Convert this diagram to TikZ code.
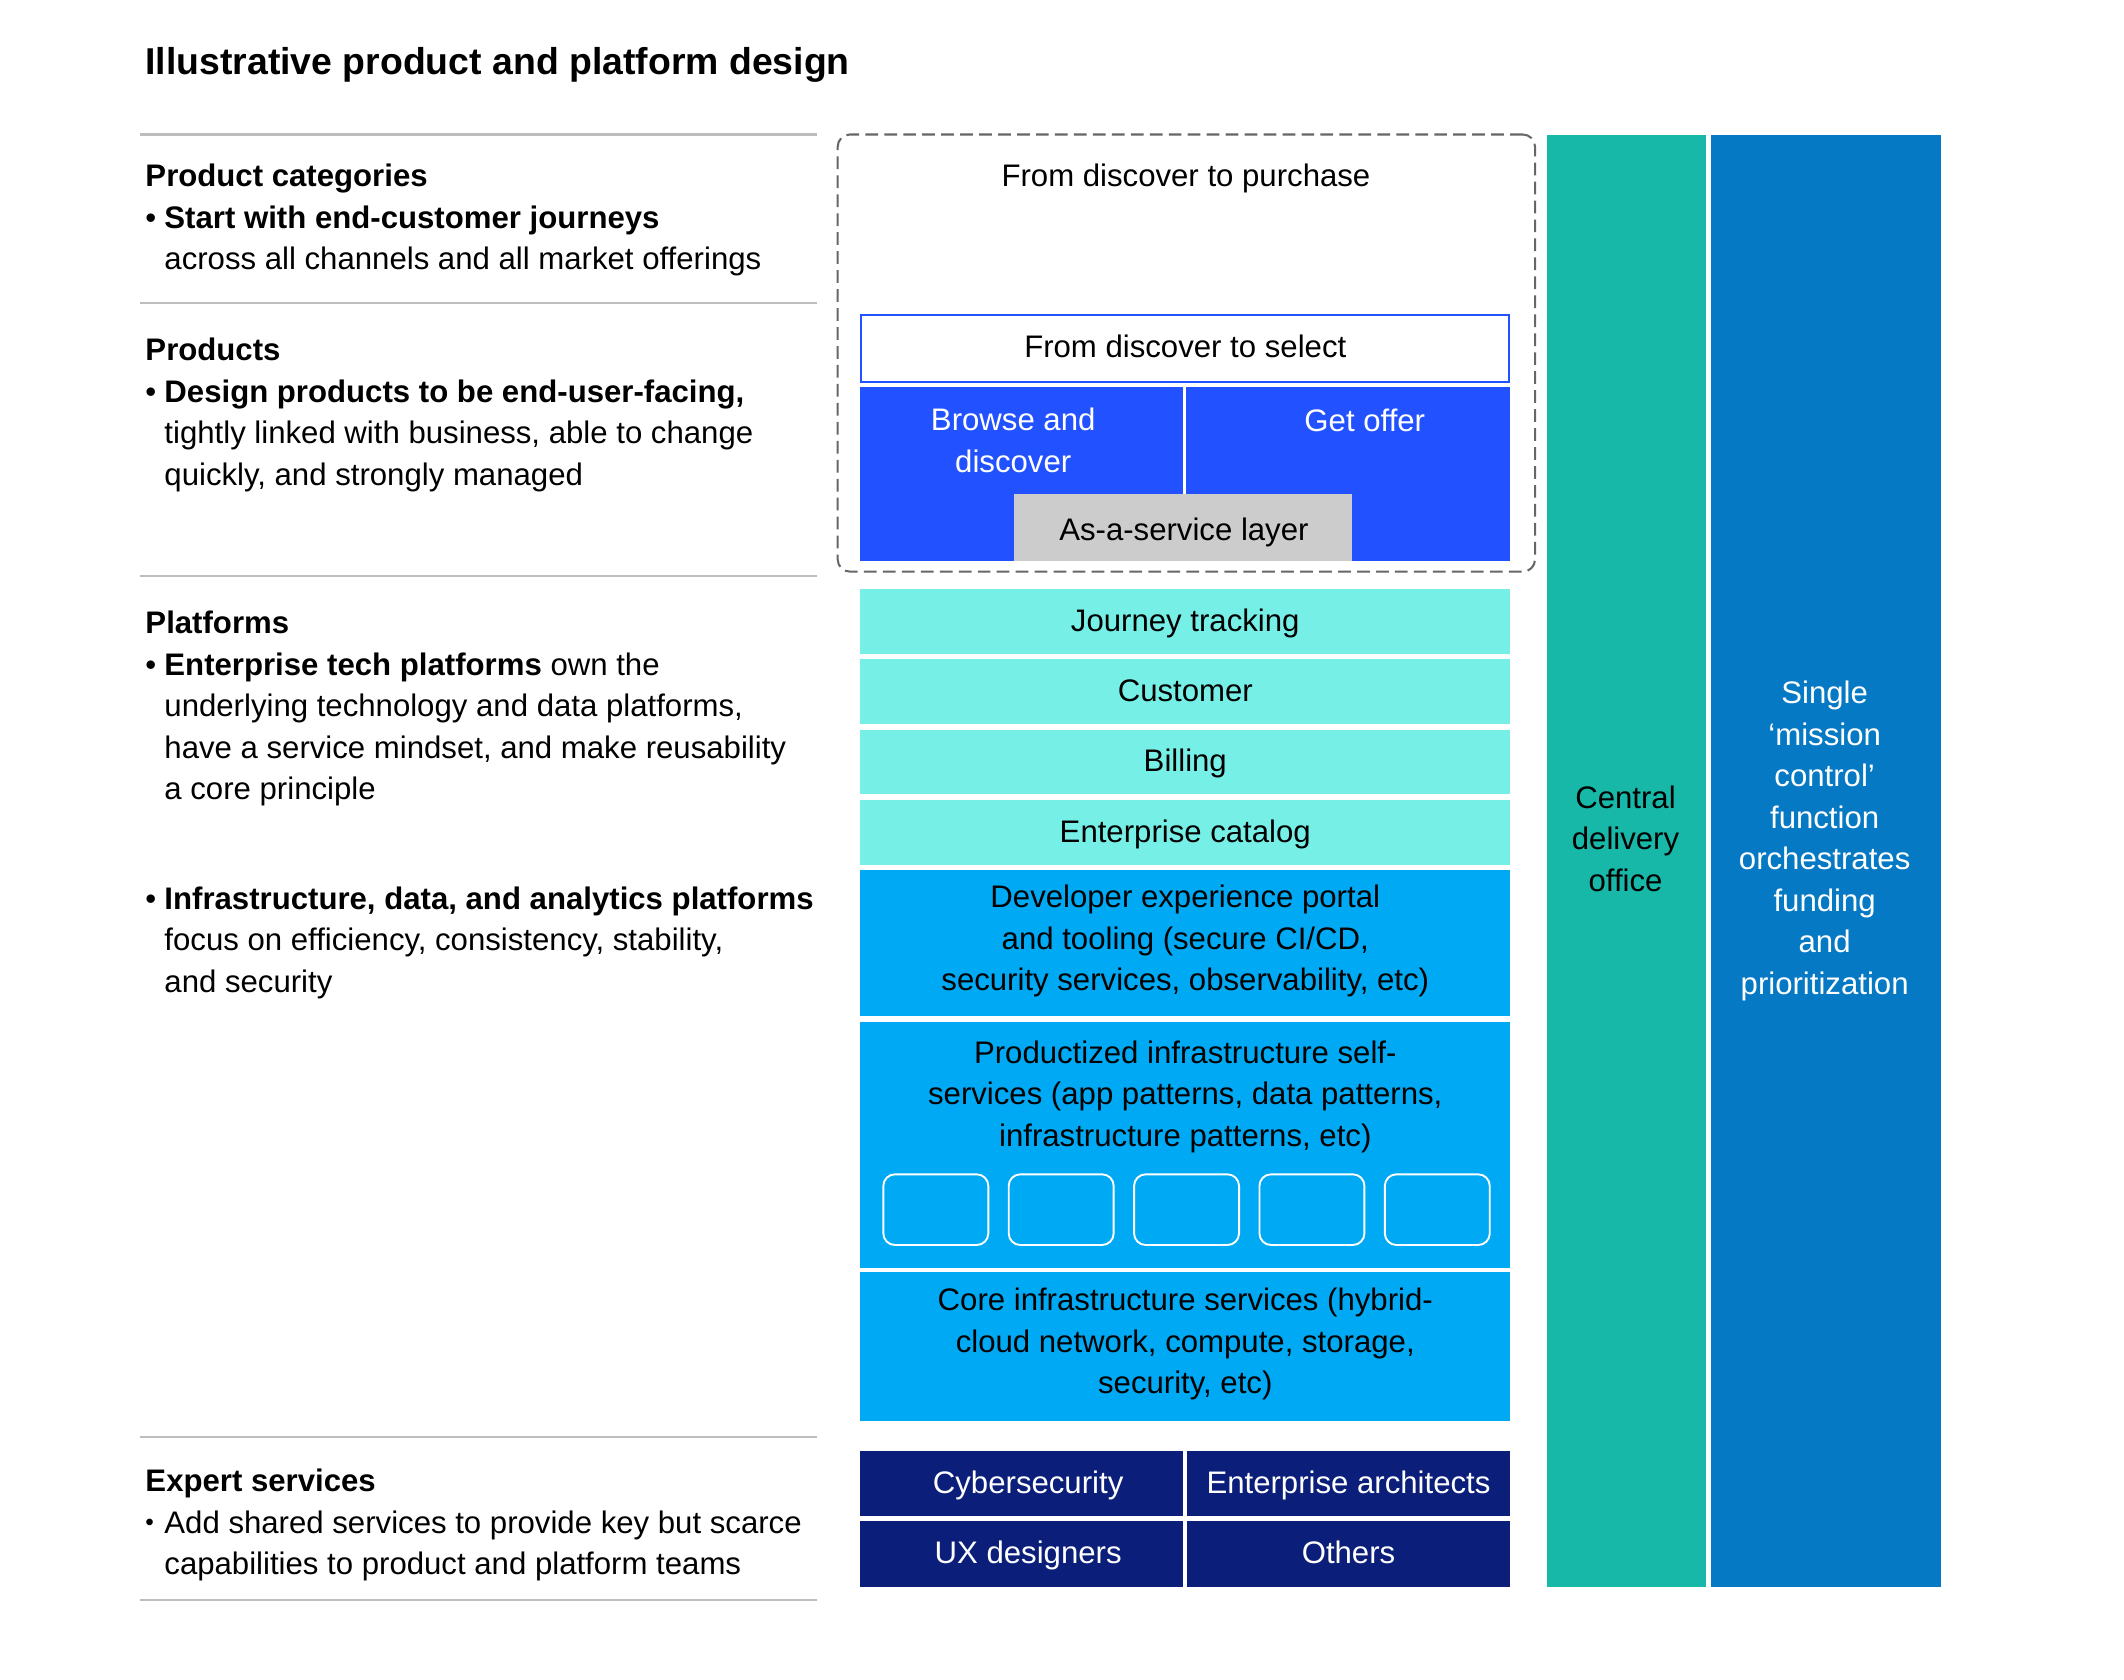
\documentclass[tikz,border=0pt]{standalone}
\usepackage{fontspec}
\setmainfont{Liberation Sans}
\definecolor{rulegray}{HTML}{BDBDBD}
\definecolor{dashgray}{HTML}{666666}
\definecolor{electric}{HTML}{2251FF}
\definecolor{layergray}{HTML}{CCCCCC}
\definecolor{mint}{HTML}{76F0E7}
\definecolor{sky}{HTML}{00A9F4}
\definecolor{navy}{HTML}{0B1F7A}
\definecolor{deliveryteal}{HTML}{17B8A8}
\definecolor{missionblue}{HTML}{0579C4}
\newcommand\bodyfont{\fontsize{11.5}{15.35}\selectfont}
\newcommand\boxstrut{\rule[-4.1pt]{0pt}{15.35pt}}
\newcommand\bulletmark{\makebox[7pt][l]{\textbullet}}
\newcommand\smallbullet{\makebox[7pt][l]{\raisebox{0.2ex}{\fontsize{9}{9}\selectfont\textbullet}}}
\newcommand\sideindent{\hspace*{7pt}}
\tikzset{
  txt/.style={inner sep=0pt, font=\bodyfont, align=center,
    execute at begin node=\boxstrut, execute at end node=\boxstrut},
  sidetext/.style={txt, anchor=north west, align=left},
  blk/.style={txt, fill=#1, minimum width=240pt, minimum height=23.95pt},
  half/.style={blk=#1, text=white, minimum width=119pt, minimum height=24.2pt},
  tile/.style={draw=white, line width=0.7pt, rounded corners=4.3pt,
    minimum width=38.75pt, minimum height=26.1pt, inner sep=0pt},
  dashframe/.style={draw=dashgray, line width=0.75pt, dash pattern=on 4.7pt off 2.3pt,
    rounded corners=4.5pt, inner sep=0pt},
  sep/.style={rulegray, line width=0.75pt},
}
\begin{document}
\begin{tikzpicture}[x=0.5pt,y=-0.5pt]
\useasboundingbox (0,0) rectangle (1568,1240.2);
\node[anchor=base west, inner sep=0pt, font=\fontsize{13.8}{16}\selectfont\bfseries] (title) at (107,55) {Illustrative product and platform design};
% left column
\foreach \y in {99.3,223.5,425.2,1061,1181.2}
  \draw[sep] (103,\y) -- (603,\y);
\node[sidetext] (categories) at (107,120.7) {\textbf{Product categories}\\\bulletmark\textbf{Start with end-customer journeys}\\\sideindent across all channels and all market offerings};
\node[sidetext] (products) at (107,249.2) {\textbf{Products}\\\bulletmark\textbf{Design products to be end-user-facing,}\\\sideindent tightly linked with business, able to change\\\sideindent quickly, and strongly managed};
\node[sidetext] (platforms) at (107,450.7) {\textbf{Platforms}\\\bulletmark\textbf{Enterprise tech platforms} own the\\\sideindent underlying technology and data platforms,\\\sideindent have a service mindset, and make reusability\\\sideindent a core principle};
\node[sidetext] (infra) at (107,654.2) {\bulletmark\textbf{Infrastructure, data, and analytics platforms}\\\sideindent focus on efficiency, consistency, stability,\\\sideindent and security};
\node[sidetext] (expert) at (107,1084.2) {\textbf{Expert services}\\\smallbullet Add shared services to provide key but scarce\\\sideindent capabilities to product and platform teams};
% products
\node[dashframe, minimum width=257.4pt, minimum height=161.35pt] (purchase) at (875.8,260.65) {};
\node[txt, anchor=north] (purchasetxt) at (875.5,114.7) {From discover to purchase};
\node[blk=white, draw=electric, line width=0.75pt, minimum width=239.25pt, minimum height=24.7pt] (select) at (875,257.1) {From discover to select};
\node[blk=electric, minimum width=119pt, minimum height=64.2pt] (browse) at (754,349.7) {};
\node[txt, white, anchor=north] (browsetxt) at (748,300.7) {Browse and\\discover};
\node[blk=electric, minimum width=119.75pt, minimum height=64.2pt] (offer) at (995.25,349.7) {};
\node[txt, white, anchor=north] (offertxt) at (1007.5,295.7) {Get offer};
\node[blk=layergray, minimum width=124.6pt, minimum height=24.6pt] (service) at (873.4,389.3) {};
\node[txt] (servicetxt) at (874,392) {As-a-service layer};
% platforms
\foreach \name/\label [count=\i from 0] in {journey/Journey tracking, customer/Customer, billing/Billing, catalog/Enterprise catalog}
  \node[blk=mint] (\name) at (875,458.75+51.9*\i) {\label};
\node[blk=sky, minimum height=54pt] (devx) at (875,696.4) {Developer experience portal\\and tooling (secure CI/CD,\\security services, observability, etc)};
\node[blk=sky, minimum height=90.95pt] (selfsvc) at (875,845.35) {};
\node[txt, anchor=north] (selfsvctxt) at (875,767.7) {Productized infrastructure self-\\services (app patterns, data patterns,\\infrastructure patterns, etc)};
\foreach \i in {0,...,4}
  \node[tile] (tile\i) at (690.85+92.55*\i,893) {};
\node[blk=sky, minimum height=54.85pt] (core) at (875,994.15) {Core infrastructure services (hybrid-\\cloud network, compute, storage,\\security, etc)};
% expert services
\node[half=navy] (cyber) at (754,1095.05) {\hspace*{5pt}Cybersecurity};
\node[half=navy, minimum width=119.5pt] (architects) at (995.5,1095.05) {Enterprise architects};
\node[half=navy] (ux) at (754,1147.1) {\hspace*{5pt}UX designers};
\node[half=navy, minimum width=119.5pt] (others) at (995.5,1147.1) {Others};
% side columns
\node[blk=deliveryteal, minimum width=58.7pt, minimum height=535.8pt] (delivery) at (1200.7,635.5) {};
\node[txt] (deliverytxt) at (1200,623) {Central\\delivery\\office};
\node[blk=missionblue, minimum width=85pt, minimum height=535.8pt] (mission) at (1347.9,635.5) {};
\node[txt, white] (missiontxt) at (1347,622.5) {Single\\‘mission\\control’\\function\\orchestrates\\funding\\and\\prioritization};
\end{tikzpicture}
\end{document}
